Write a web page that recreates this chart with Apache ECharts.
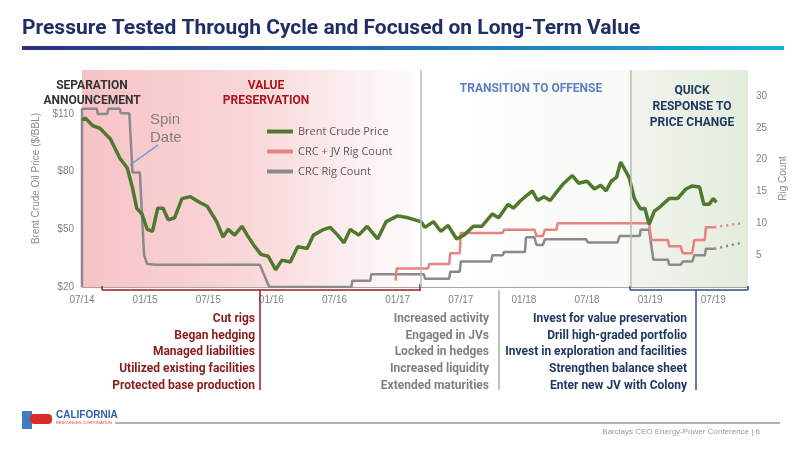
<!DOCTYPE html>
<html>
<head>
<meta charset="utf-8">
<script src="https://cdn.jsdelivr.net/npm/echarts@6/dist/echarts.min.js"></script>
<style>
  body { margin: 0; background: #fff; }
  #chart { width: 800px; height: 450px; }
</style>
</head>
<body>
<div id="chart"></div>
<script>
// months counted from 07/14
var tickLabels = ['07/14', '01/15', '07/15', '01/16', '07/16', '01/17', '07/17', '01/18', '07/18', '01/19', '07/19'];

// [month, $/bbl]
var brent = [[0,106.8],[0.3,108],[1,104],[1.7,102.6],[2.7,97],[3.6,87],[4.3,82],[4.8,71.6],[5.2,61],[5.7,58],[6.2,50],[6.7,49],
  [7.2,61],[7.7,61],[8.2,55],[8.8,56],[9.5,66],[10.3,67],[11.2,64],[11.9,62],[12.8,54],[13.4,46],[13.9,50],[14.5,47],
  [15.2,51.6],[15.7,47],[16.3,42],[17,37],[17.7,36],[18.4,29],[19,34],[19.8,33],[20.5,41],[21.4,40],[22,47],[23,50],
  [23.6,51],[24.3,47],[24.9,43],[25.5,50],[26.3,47],[27.1,51.6],[28.1,45],[28.9,54],[30,57],[31,56],[32.2,54],[32.6,51],
  [33.4,54],[34.1,49],[34.8,52],[35.6,45],[36.3,47],[37.2,51.6],[38,51.6],[39,58],[39.6,56],[40.5,63],[41,61],[41.7,65],
  [42.8,70],[43.3,65],[43.9,67],[44.5,65],[45.2,70],[45.8,74],[46.6,78],[47.2,74],[48,75],[48.7,71],[49.3,73],[49.8,70],
  [50.3,75],[50.8,77],[51.2,85],[52,77],[52.5,66],[53.1,60.5],[53.5,61],[53.9,52.6],[54.4,59.5],[55,62],[55.8,66],
  [56.6,66],[57.4,71],[58,72.6],[58.7,72],[59.1,63],[59.6,63],[60,66],[60.3,64]];

// [month, rigs]
var crcJvRigs = [[29.8,1],[29.9,2.9],[32.9,2.9],[33,3.6],[34.9,3.6],[35,5.3],[35.9,5.3],[36,8.5],[40,8.5],[40.1,9],[43,9],
  [43.2,8],[43.8,8],[44,9],[45.1,9],[45.2,10],[53.9,10],[54.1,7.4],[55.7,7.4],[55.8,6.4],[56.9,6.4],[57.1,5.3],[58,5.3],
  [58.2,7.4],[59.2,7.4],[59.3,9.4],[60.1,9.4]];
var crcJvOutlook = [[60.1,9.4],[62.6,10]];

var crcRigs = [[0,0],[0,28],[1.4,28],[1.5,27.2],[2.4,27.2],[2.5,28],[3.6,28],[3.7,27.3],[4.5,27.3],[4.8,18],[5.5,18],[5.9,5],
  [6.2,3.6],[7,3.5],[16.9,3.5],[17.8,0],[25.6,0],[25.7,1],[27.4,1],[27.5,2],[32.5,2],[32.6,1.3],[34.9,1.3],[35,2.4],
  [35.9,2.4],[36,4],[38.9,4],[39,5],[40,5],[40.1,5.5],[42.1,5.5],[42.2,7.8],[43,7.8],[43.2,6.6],[43.8,6.6],[44,7.5],
  [47.9,7.5],[48.1,7],[50.9,7],[51.1,8],[53,8],[53.1,9],[53.9,9],[54.3,4.3],[55.7,4.3],[55.8,3.5],[56.9,3.5],[57.1,4],
  [58,4],[58.2,5],[59.2,5],[59.3,6],[60.1,6]];
var crcOutlook = [[60.1,6],[62.6,6.9]];

var bulletsRed = ['Cut rigs', 'Began hedging', 'Managed liabilities', 'Utilized existing facilities', 'Protected base production'];
var bulletsGray = ['Increased activity', 'Engaged in JVs', 'Locked in hedges', 'Increased liquidity', 'Extended maturities'];
var bulletsBlue = ['Invest for value preservation', 'Drill high-graded portfolio', 'Invest in exploration and facilities', 'Strengthen balance sheet', 'Enter new JV with Colony'];

var narrow = '"Liberation Sans Narrow", "Roboto", sans-serif';
var chart = echarts.init(document.getElementById('chart'));

function bulletText(list, x, color) {
    return list.map(function (t, i) {
        return { type: 'text', right: 800 - x, top: 313 + i * 16.7,
            style: { text: t, fill: color, font: 'bold 12px ' + narrow, textAlign: 'right' } };
    });
}
function line(x1, y1, x2, y2, color) {
    return { type: 'line', shape: { x1: x1, y1: y1, x2: x2, y2: y2 }, style: { stroke: color, lineWidth: 1.5 }, z: 5 };
}

var graphics = [
    { type: 'text', left: 22, top: 18, style: { text: 'Pressure Tested Through Cycle and Focused on Long-Term Value', fill: '#1f2f66', font: 'bold 21px ' + narrow } },
    { type: 'rect', shape: { x: 22, y: 46, width: 762, height: 4 },
      style: { fill: new echarts.graphic.LinearGradient(0, 0, 1, 0, [{ offset: 0, color: '#2b2f86' }, { offset: 1, color: '#18b0e6' }]) } },
    { type: 'text', x: 92, y: 78, style: { text: 'SEPARATION\nANNOUNCEMENT', fill: '#333', font: 'bold 12px ' + narrow, textAlign: 'center', lineHeight: 15 } },
    { type: 'text', x: 266, y: 78, style: { text: 'VALUE\nPRESERVATION', fill: '#b0121b', font: 'bold 12px ' + narrow, textAlign: 'center', lineHeight: 15 } },
    { type: 'text', x: 531, y: 83, style: { text: 'TRANSITION TO OFFENSE', fill: '#5b7fc7', font: 'bold 12px ' + narrow, textAlign: 'center' } },
    { type: 'text', x: 692, y: 83, style: { text: 'QUICK\nRESPONSE TO\nPRICE CHANGE', fill: '#1f3864', font: 'bold 12px ' + narrow, textAlign: 'center', lineHeight: 16 } },
    { type: 'text', x: 150, y: 111, style: { text: 'Spin\nDate', fill: '#7f7f7f', font: '15px "Liberation Sans", sans-serif', lineHeight: 18 } },
    line(158, 145, 130, 165, '#5b9bd5'),
    // period brackets under the axis
    line(102, 290, 420, 290, '#9b1b1f'), line(102, 286, 102, 290, '#9b1b1f'), line(260, 290, 260, 390, '#9b1b1f'),
    line(420, 284, 420, 291, '#9b1b1f'), line(499, 290, 499, 390, '#aaa'),
    line(630, 290, 748, 290, '#2f4f7f'), line(630, 286, 630, 290, '#2f4f7f'), line(748, 286, 748, 290, '#2f4f7f'), line(696, 290, 696, 390, '#2f4f7f'),
    // footer
    line(115, 423, 780, 423, '#999'),
    { type: 'text', x: 56, y: 410, style: { text: 'CALIFORNIA', fill: '#2e5fa8', font: 'bold 10px "Liberation Sans", sans-serif' } },
    { type: 'text', x: 56, y: 421, style: { text: 'RESOURCES CORPORATION', fill: '#d33', font: '4px "Liberation Sans", sans-serif' } },
    { type: 'rect', shape: { x: 22, y: 411, width: 10, height: 18 }, style: { fill: '#3f7cc0' } },
    { type: 'rect', shape: { x: 30, y: 414, width: 22, height: 10, r: 4 }, style: { fill: '#d92d2d' } },
    { type: 'text', right: 40, top: 428, style: { text: 'Barclays CEO Energy-Power Conference | 6', fill: '#999', font: '8px "Liberation Sans", sans-serif' } }
].concat(bulletText(bulletsRed, 255, '#8b1a1a'), bulletText(bulletsGray, 489, '#7f7f7f'), bulletText(bulletsBlue, 687, '#1f3864'));

var option = {
    animation: false,
    grid: {
        left: 82, right: 52, top: 70, bottom: 163, show: true, borderWidth: 0,
        backgroundColor: new echarts.graphic.LinearGradient(0, 0, 1, 0, [
            { offset: 0, color: '#f6c3c6' }, { offset: 0.25, color: '#f9d7d9' }, { offset: 0.52, color: '#ffffff' },
            { offset: 0.82, color: '#f8faf6' }, { offset: 0.821, color: '#f1f5ee' }, { offset: 1, color: '#e3ecdc' }])
    },
    legend: {
        orient: 'vertical', left: 262, top: 121, itemGap: 9, itemWidth: 26, itemHeight: 4, icon: 'rect',
        textStyle: { color: '#595959', fontSize: 11, fontFamily: 'Open Sans' },
        data: ['Brent Crude Price', 'CRC + JV Rig Count', 'CRC Rig Count']
    },
    xAxis: {
        type: 'value', min: 0, max: 63.3, interval: 6,
        axisLine: { lineStyle: { color: '#a6a6a6' } }, axisTick: { show: false }, splitLine: { show: false },
        axisLabel: { color: '#808080', fontSize: 10, margin: 8, showMaxLabel: false,
            formatter: function (v) { return tickLabels[v / 6] || ''; } }
    },
    yAxis: [{
        type: 'value', min: 20, max: 132.9, interval: 30,
        name: 'Brent Crude Oil Price ($/BBL)', nameLocation: 'middle', nameGap: 34, nameRotate: 90,
        nameTextStyle: { color: '#8c8c8c', fontSize: 10 },
        axisLine: { show: false }, axisTick: { show: false }, splitLine: { show: false },
        axisLabel: { color: '#808080', fontSize: 10, showMaxLabel: false, formatter: '${value}' }
    }, {
        type: 'value', min: 0, max: 34.1, interval: 5, position: 'right',
        name: 'Rig Count', nameLocation: 'middle', nameGap: 30, nameRotate: 90,
        nameTextStyle: { color: '#8c8c8c', fontSize: 10 },
        axisLine: { show: false }, axisTick: { show: false }, splitLine: { show: false },
        axisLabel: { color: '#808080', fontSize: 10, showMaxLabel: false, showMinLabel: false, margin: 8 }
    }],
    series: [{
        name: 'CRC Rig Count', type: 'line', yAxisIndex: 1, data: crcRigs, symbol: 'none',
        lineStyle: { color: '#8a8a8a', width: 2.5 }, itemStyle: { color: '#8a8a8a' },
        markLine: { silent: true, symbol: 'none', label: { show: false },
            lineStyle: { color: '#bdbdbd', type: 'solid', width: 1.5 }, data: [{ xAxis: 32.2 }, { xAxis: 52.2 }] }
    }, {
        name: 'CRC + JV Rig Count', type: 'line', yAxisIndex: 1, data: crcJvRigs, symbol: 'none',
        lineStyle: { color: '#e8827f', width: 2.5 }, itemStyle: { color: '#e8827f' }
    }, {
        name: 'Brent Crude Price', type: 'line', yAxisIndex: 0, data: brent, symbol: 'none',
        lineStyle: { color: '#4f7a2e', width: 3.5 }, itemStyle: { color: '#4f7a2e' }
    }, {
        name: 'CRC outlook', type: 'line', yAxisIndex: 1, data: crcOutlook, symbol: 'none',
        lineStyle: { color: '#8a8a8a', width: 2.5, type: [2, 4] }
    }, {
        name: 'CRC + JV outlook', type: 'line', yAxisIndex: 1, data: crcJvOutlook, symbol: 'none',
        lineStyle: { color: '#e8827f', width: 2.5, type: [2, 4] }
    }],
    graphic: graphics
};
chart.setOption(option);
</script>
</body>
</html>
